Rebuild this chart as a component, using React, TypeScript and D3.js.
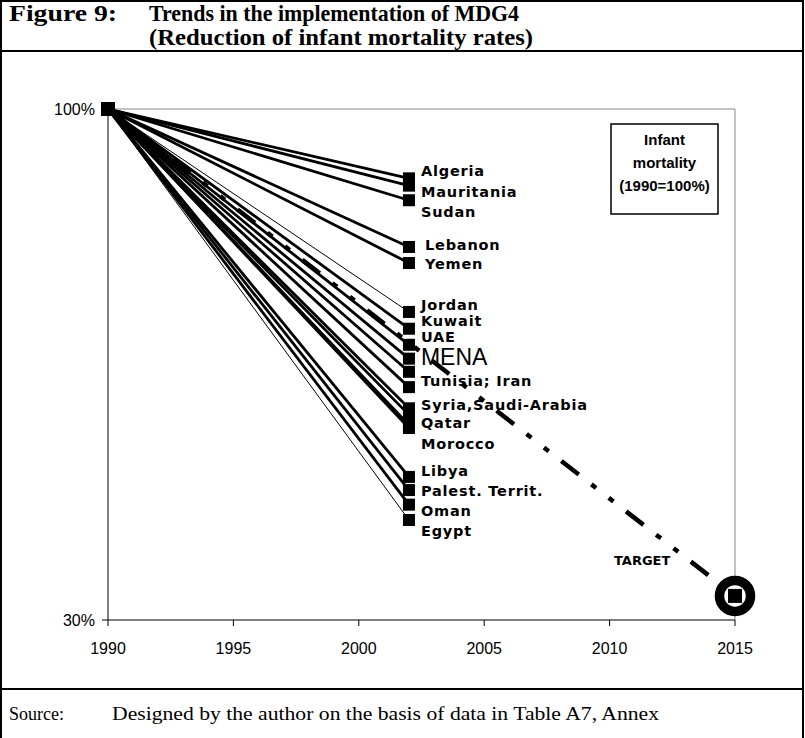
import React from 'react';
import * as d3 from 'd3';

// infant mortality, 1990 = 100%
const countries = ['Algeria', 'Mauritania', 'Sudan', 'Lebanon', 'Yemen', 'Jordan', 'Kuwait', 'UAE', 'MENA',
    'Tunisia', 'Iran', 'Syria', 'Saudi-Arabia', 'Qatar', 'Morocco', 'Libya', 'Palest. Territ.', 'Oman', 'Egypt'];
const rate2002 = [90.5, 89.5, 87.5, 81.1, 78.9, 72.2, 69.9, 67.7, 65.8,
    64.0, 61.9, 59.0, 58.1, 56.7, 56.3, 49.6, 47.8, 45.8, 43.7];
const baseYear = 1990;
const lastYear = 2002;
const baseRate = 100;

// MDG4 target: two thirds reduction by 2015
const targetYears = [1990, 2015];
const targetRates = [100, 33.3];

const xTicks = [1990, 1995, 2000, 2005, 2010, 2015];
const yTicks = [30, 100];

const labelRows = ['Algeria', 'Mauritania', 'Sudan', 'Lebanon', 'Yemen', 'Jordan', 'Kuwait', 'UAE', 'MENA',
    'Tunisia; Iran', 'Syria,Saudi-Arabia', 'Qatar', 'Morocco', 'Libya', 'Palest. Territ.', 'Oman', 'Egypt'];
// label rows are stacked beside the markers, placed in % units
const labelAt = [91.5, 88.6, 85.9, 81.4, 78.8, 73.2, 71.0, 68.8, 66.0,
    62.7, 59.5, 57.0, 54.1, 50.4, 47.7, 44.9, 42.2];
const thinLines = ['Jordan', 'Egypt'];

const W = 805;
const H = 738;

const App: React.FC = () => {
    const x = d3.scaleLinear().domain([1990, 2015]).range([108, 735]);
    const y = d3.scaleLinear().domain([30, 100]).range([620, 109]);

    const line = d3.line<[number, number]>()
        .x(d => x(d[0]))
        .y(d => y(d[1]));

    const targetPath = line(targetYears.map((yr, i) => [yr, targetRates[i]] as [number, number])) || '';
    const tx = x(targetYears[1]);
    const ty = y(targetRates[1]);

    const labelFont = "'DejaVu Sans', sans-serif";

    return (
        <svg width={W} height={H} style={{ position: 'absolute', left: 0, top: 0, background: '#fff' }}>
            {/* frame */}
            <rect x={1} y={1} width={802} height={740} fill='none' stroke='#000' strokeWidth={2} />
            <line x1={1} x2={804} y1={51} y2={51} stroke='#000' strokeWidth={2} />
            <line x1={1} x2={804} y1={689} y2={689} stroke='#000' strokeWidth={2} />

            {/* title */}
            <g fontFamily="'Liberation Serif', 'Times New Roman', serif" fontWeight='bold' fontSize={24}>
                <text x={9} y={21} textLength={108} lengthAdjust='spacingAndGlyphs'>Figure 9:</text>
                <text x={149} y={21} textLength={370} lengthAdjust='spacingAndGlyphs'>Trends in the implementation of MDG4</text>
                <text x={149} y={45} textLength={384} lengthAdjust='spacingAndGlyphs'>(Reduction of infant mortality rates)</text>
            </g>

            {/* plot area border */}
            <line x1={x(1990)} x2={x(2015)} y1={y(100)} y2={y(100)} stroke='#888' strokeWidth={1} />
            <line x1={x(2015)} x2={x(2015)} y1={y(100)} y2={y(30)} stroke='#888' strokeWidth={1} />

            {/* axes */}
            <line x1={x(1990)} x2={x(1990)} y1={y(100)} y2={y(30)} stroke='#000' strokeWidth={1} />
            <line x1={x(1990)} x2={x(2015)} y1={y(30)} y2={y(30)} stroke='#000' strokeWidth={1} />
            {xTicks.map(t => (
                <g key={t}>
                    <line x1={x(t)} x2={x(t)} y1={y(30)} y2={y(30) + 6} stroke='#000' />
                    <text x={x(t)} y={y(30) + 34} textAnchor='middle' fontFamily="'Liberation Sans', Arial, sans-serif" fontSize={16}>{t}</text>
                </g>
            ))}
            {yTicks.map(t => (
                <g key={t}>
                    <line x1={x(1990) - 6} x2={x(1990)} y1={y(t)} y2={y(t)} stroke='#000' />
                    <text x={x(1990) - 13} y={y(t) + 6} textAnchor='end' fontFamily="'Liberation Sans', Arial, sans-serif" fontSize={16}>{t}%</text>
                </g>
            ))}

            {/* country lines */}
            {countries.map((c, i) => (
                <path key={c}
                    d={line([[baseYear, baseRate], [lastYear, rate2002[i]]]) || ''}
                    fill='none' stroke='#000'
                    strokeWidth={thinLines.includes(c) ? 1 : 2.8} />
            ))}
            {countries.map((c, i) => (
                <rect key={c} x={x(lastYear) - 6} y={y(rate2002[i]) - 6} width={12} height={12} fill='#000' />
            ))}
            <rect x={x(baseYear) - 7} y={y(baseRate) - 7} width={14} height={14} fill='#000' />

            {/* labels */}
            {labelRows.map((l, i) => (
                l === 'MENA'
                    ? <text key={l} x={x(lastYear) + 12} y={y(labelAt[i]) + 8} fontFamily="'Liberation Sans', Arial, sans-serif" fontSize={23}>{l}</text>
                    : <text key={l} x={x(lastYear) + (i === 3 || i === 4 ? 16 : 12)} y={y(labelAt[i]) + 5}
                        fontFamily={labelFont} fontWeight='bold' fontSize={14.5} letterSpacing={0.8}>{l}</text>
            ))}

            {/* target trajectory */}
            <path d={targetPath} fill='none' stroke='#000' strokeWidth={4.5} strokeDasharray='22,16,6,16,6,16' />
            <text x={x(2011.3)} y={y(37.5)} fontFamily={labelFont} fontWeight='bold' fontSize={13} textAnchor='middle'>TARGET</text>
            <circle cx={tx} cy={ty} r={15.5} fill='#fff' stroke='#000' strokeWidth={9.5} />
            <rect x={tx - 7} y={ty - 7} width={14} height={14} fill='#000' />

            {/* legend box */}
            <rect x={611} y={124} width={107} height={90} fill='#fff' stroke='#000' strokeWidth={1.5} />
            <g fontFamily="'Liberation Sans', Arial, sans-serif" fontWeight='bold' fontSize={15} textAnchor='middle'>
                <text x={664.5} y={145}>Infant</text>
                <text x={664.5} y={168}>mortality</text>
                <text x={664.5} y={191}>(1990=100%)</text>
            </g>

            {/* source */}
            <g fontFamily="'Liberation Serif', 'Times New Roman', serif" fontSize={19}>
                <text x={9} y={720} textLength={55} lengthAdjust='spacingAndGlyphs'>Source:</text>
                <text x={112} y={720} textLength={547} lengthAdjust='spacingAndGlyphs'>Designed by the author on the basis of data in Table A7, Annex</text>
            </g>
        </svg>
    );
};

export default App;
